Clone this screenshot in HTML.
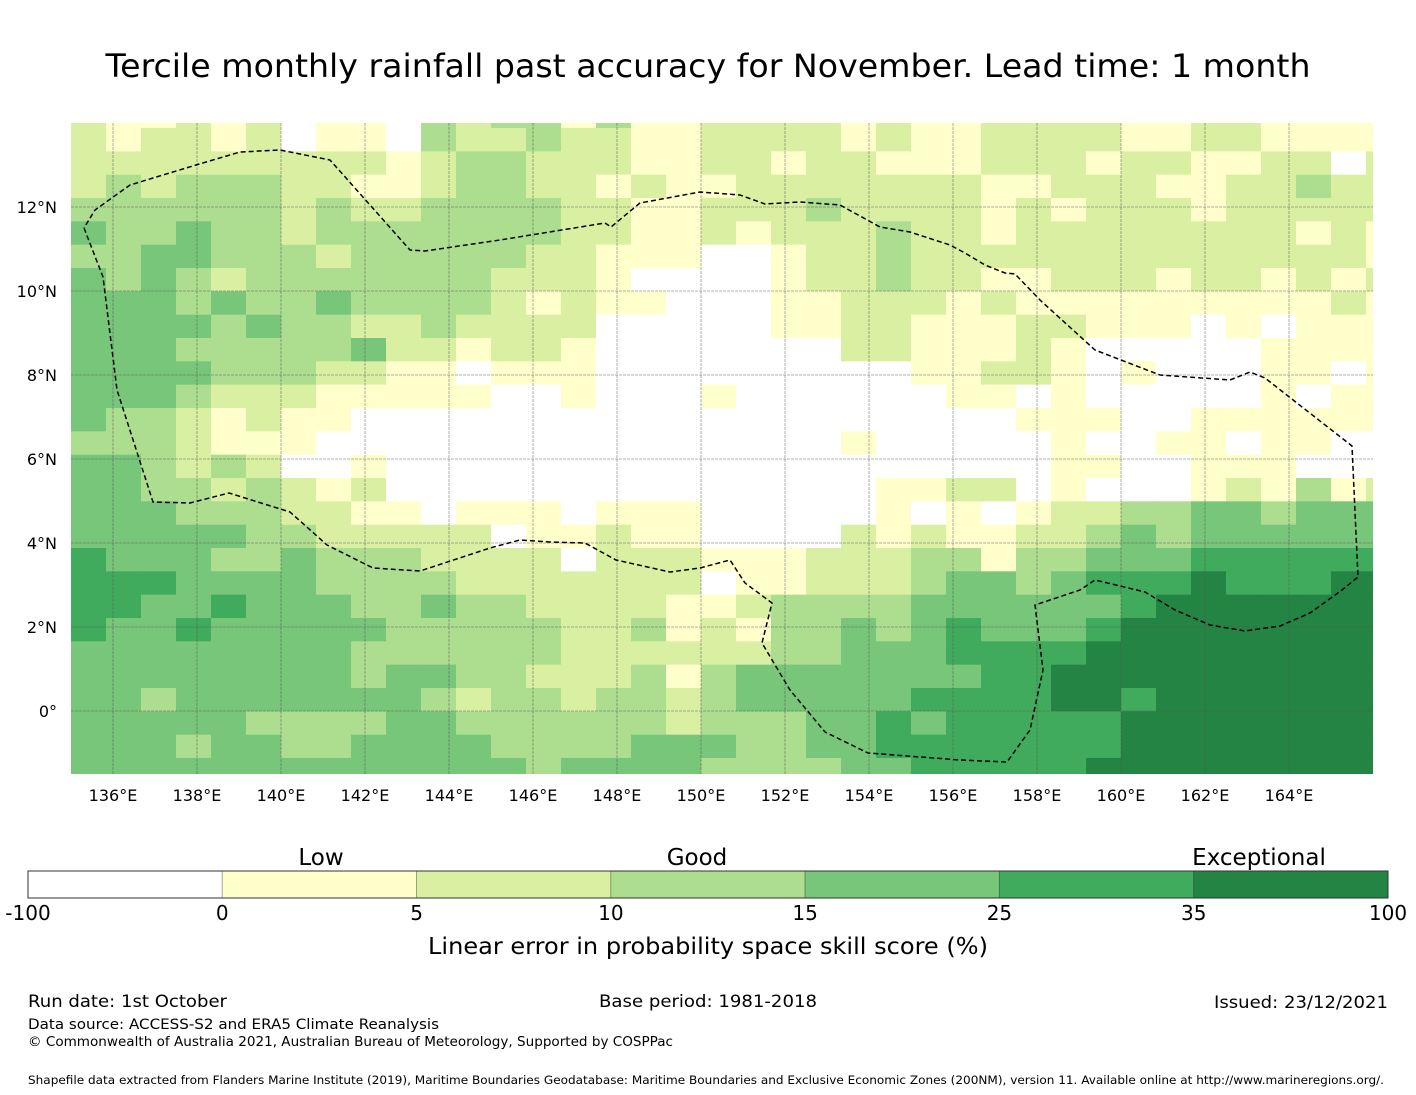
<!DOCTYPE html>
<html><head><meta charset="utf-8">
<style>
html,body{margin:0;padding:0;background:#fff;}
svg{display:block;font-family:"DejaVu Sans","Liberation Sans",sans-serif;}
</style></head>
<body>
<svg id="chart" width="1416" height="1095" viewBox="0 0 1416 1095" xmlns="http://www.w3.org/2000/svg">
<text x="708" y="77" text-anchor="middle" font-size="32" textLength="1205" lengthAdjust="spacingAndGlyphs">Tercile monthly rainfall past accuracy for November. Lead time: 1 month</text>
<defs><clipPath id="mapclip"><rect x="71" y="123" width="1302" height="651"/></clipPath></defs>
<g id="map" clip-path="url(#mapclip)">
<rect x="71" y="123" width="1302" height="651" fill="#fff"/>
<g id="cells"></g>
<g id="grid"></g>
<polyline fill="none" stroke="#000" stroke-width="1.5" stroke-dasharray="5,3"
points="84,228 103,277 117,390 153,502 190,503 229,493 290,512 327,545 373,568 420,571 490,548 520,540 550,542 585,543 616,560 670,572 700,568 730,560 745,583 772,603 762,643 790,690 825,732 868,753 960,760 1007,762 1030,730 1043,670 1035,605 1050,600 1080,590 1095,580 1145,592 1175,610 1210,625 1245,631 1280,626 1310,613 1342,590 1358,577 1352,446 1265,378 1250,372 1230,380 1160,375 1095,350 1040,300 1015,274 1005,273 985,265 965,253 950,245 910,232 880,227 840,205 800,202 765,204 740,195 700,192 640,203 611,227 605,223 500,240 425,251 410,250 330,160 280,150 240,152 196,165 130,185 95,210 84,228"/>
</g>
<g id="xticks" font-size="16"></g>
<g id="yticks" font-size="16"></g>

<g>
<g id="cbar"></g>
<rect x="28" y="871" width="1360" height="27" fill="none" stroke="#333" stroke-width="1"/>
<g id="cbticks" font-size="20"></g>
<text x="321" y="865" text-anchor="middle" font-size="23">Low</text>
<text x="697" y="865" text-anchor="middle" font-size="23">Good</text>
<text x="1259" y="865" text-anchor="middle" font-size="23">Exceptional</text>
<text x="708" y="954" text-anchor="middle" font-size="23" textLength="560" lengthAdjust="spacingAndGlyphs">Linear error in probability space skill score (%)</text>
</g>

<text x="28" y="1007" font-size="17" textLength="199" lengthAdjust="spacingAndGlyphs">Run date: 1st October</text>
<text x="708" y="1007" font-size="17" text-anchor="middle" textLength="218" lengthAdjust="spacingAndGlyphs">Base period: 1981-2018</text>
<text x="1388" y="1008" font-size="17" text-anchor="end" textLength="174" lengthAdjust="spacingAndGlyphs">Issued: 23/12/2021</text>
<text x="28" y="1029" font-size="14" textLength="411" lengthAdjust="spacingAndGlyphs">Data source: ACCESS-S2 and ERA5 Climate Reanalysis</text>
<text x="28" y="1046" font-size="13" textLength="645" lengthAdjust="spacingAndGlyphs">© Commonwealth of Australia 2021, Australian Bureau of Meteorology, Supported by COSPPac</text>
<text x="28" y="1084" font-size="11.5" textLength="1356" lengthAdjust="spacingAndGlyphs">Shapefile data extracted from Flanders Marine Institute (2019), Maritime Boundaries Geodatabase: Maritime Boundaries and Exclusive Economic Zones (200NM), version 11. Available online at http://www.marineregions.org/.</text>
</svg>
<script>
// category per cell (0..6), rows north->south, columns west->east
const gridRows = [
"2112120110323"+"313112222121"+"1222211221111",
"2122120110322"+"322112222121"+"1222211221111",
"2222222221233"+"222112212211"+"1222122112202",
"2323332211233"+"221211222222"+"2112221122322",
"3333332322333"+"322112223222"+"2121222122222",
"4334332333333"+"322112122232"+"2122222222121",
"3344333233333"+"221110012232"+"2222222222221",
"4343233333332"+"221000012232"+"2112221221212",
"4443433433332"+"121100011222"+"1211111111121",
"4444343322322"+"220000011221"+"1122111010111",
"4443333342212"+"210000000221"+"1121000001111",
"4444333221101"+"110000000001"+"1221010001101",
"4443222111110"+"010001000000"+"1101000001011",
"4332121100000"+"000000000000"+"0011100111111",
"3332111000000"+"000000000100"+"0001001101100",
"4432320010000"+"000000000000"+"0001100111000",
"4433232120000"+"000000000011"+"2201000121312",
"4443332211011"+"101110000010"+"1012233443444",
"4444433222220"+"112110000212"+"1122343444444",
"5444334333222"+"202221112223"+"3133444555555",
"5554444333322"+"222220112223"+"4434555655566",
"5544544433433"+"222211233334"+"4444456666666",
"5445444443333"+"322312133434"+"5444566666666",
"4444444433333"+"322222233444"+"5555666666666",
"4444444434433"+"222313444444"+"4556666666666",
"4434444444323"+"323323444445"+"5556656666666",
"4444433334433"+"333323334454"+"5555566666666",
"4443443344443"+"333444334455"+"5555566666666",
"4444444444444"+"344443333445"+"5555666666666"
];
const palette = ["#ffffff","#ffffcc","#d9f0a3","#addd8e","#78c679","#41ab5d","#238443"];
const lonTicks = [136,138,140,142,144,146,148,150,152,154,156,158,160,162,164];
const latTicks = [0,2,4,6,8,10,12];
const cbTickLabels = ["-100","0","5","10","15","25","35","100"];

const NS = "http://www.w3.org/2000/svg";
const X0 = 71, CW = 35, Y0 = 104.67, CH = 23.333;
function lonX(lon){ return 113 + 42*(lon-136); }
function latY(lat){ return 711 - 42*lat; }
function mk(tag, attrs){ const e=document.createElementNS(NS,tag); for(const k in attrs) e.setAttribute(k,attrs[k]); return e; }

const cells = document.getElementById('cells');
gridRows.forEach((row,r)=>{
  for(let c=0;c<row.length;c++){
    const v = +row[c];
    const rc = mk('rect',{x:X0+c*CW, y:(Y0+r*CH).toFixed(2), width:CW+0.5, height:(CH+0.5).toFixed(2), fill:palette[v]});
    
    
    cells.appendChild(rc);
  }
});

const grid = document.getElementById('grid');
const xt = document.getElementById('xticks');
lonTicks.forEach(l=>{
  const x = lonX(l);
  const ln = mk('line',{x1:x,y1:123,x2:x,y2:774,stroke:"#555","stroke-opacity":"0.6","stroke-width":"0.8","stroke-dasharray":"3,1"});
  
  
  grid.appendChild(ln);
  const t = mk('text',{x:x,y:801,"text-anchor":"middle"});
  t.textContent = l + "°E";
  
  
  xt.appendChild(t);
});
const yt = document.getElementById('yticks');
latTicks.forEach(l=>{
  const y = latY(l);
  const ln = mk('line',{x1:71,y1:y,x2:1373,y2:y,stroke:"#555","stroke-opacity":"0.6","stroke-width":"0.8","stroke-dasharray":"3,1"});
  
  
  grid.appendChild(ln);
  const t = mk('text',{x:57,y:y+6,"text-anchor":"end"});
  t.textContent = l===0 ? "0°" : l + "°N";
  
  
  yt.appendChild(t);
});

const cbar = document.getElementById('cbar');
const cbt = document.getElementById('cbticks');
const segW = 1360/palette.length;
palette.forEach((col,i)=>{
  const s = mk('rect',{x:28+i*segW,y:871,width:segW,height:27,fill:col,stroke:"rgba(0,0,0,0.25)","stroke-width":"1"});
  
  
  cbar.appendChild(s);
});
cbTickLabels.forEach((lab,i)=>{
  const t = mk('text',{x:28+i*segW,y:920,"text-anchor":"middle"});
  t.textContent = lab;
  
  
  cbt.appendChild(t);
});
</script>
</body></html>
